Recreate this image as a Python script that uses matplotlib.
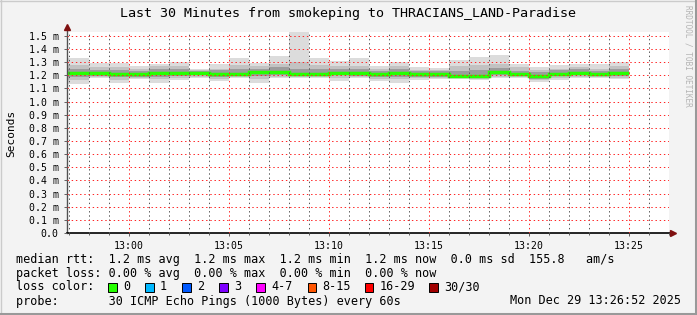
import numpy as np
import matplotlib.pyplot as plt
from matplotlib.patches import Rectangle
from matplotlib.ticker import MultipleLocator, FixedLocator, FixedFormatter

plt.rcParams['font.family'] = ['DejaVu Sans Mono']

# ---------------------------------------------------------------------------
# data (ms), one value per 1-minute step; x is minutes after 13:00
X_LEFT, X_RIGHT = -3.1, 27.0
step_ends = list(range(-2, 26))

median = [1.216, 1.216, 1.214, 1.211, 1.216, 1.216, 1.218, 1.213, 1.211, 1.226,
          1.226, 1.211, 1.213, 1.221, 1.217, 1.214, 1.218, 1.208, 1.208, 1.198,
          1.195, 1.226, 1.208, 1.193, 1.214, 1.217, 1.211, 1.217]
ping_max = [1.333, 1.294, 1.297, 1.272, 1.287, 1.303, 1.252, 1.290, 1.333, 1.292,
            1.350, 1.600, 1.333, 1.310, 1.333, 1.273, 1.303, 1.265, 1.256, 1.316,
            1.340, 1.356, 1.289, 1.263, 1.280, 1.288, 1.288, 1.305]
ping_min = [1.137, 1.178, 1.145, 1.170, 1.145, 1.165, 1.178, 1.160, 1.178, 1.145,
            1.178, 1.178, 1.178, 1.160, 1.178, 1.155, 1.145, 1.165, 1.170, 1.170,
            1.165, 1.178, 1.178, 1.150, 1.165, 1.178, 1.178, 1.170]
p90 = [1.28, 1.26, 1.26, 1.25, 1.27, 1.27, 1.24, 1.25, 1.28, 1.27,
       1.29, 1.30, 1.28, 1.27, 1.27, 1.25, 1.27, 1.24, 1.24, 1.27,
       1.28, 1.29, 1.26, 1.24, 1.25, 1.26, 1.25, 1.27]
p75 = [1.250, 1.240, 1.240, 1.235, 1.245, 1.245, 1.235, 1.240, 1.250, 1.250,
       1.260, 1.245, 1.250, 1.245, 1.245, 1.235, 1.245, 1.230, 1.230, 1.235,
       1.240, 1.255, 1.235, 1.225, 1.240, 1.245, 1.235, 1.245]
p25 = [1.190, 1.195, 1.185, 1.190, 1.190, 1.195, 1.200, 1.190, 1.195, 1.195,
       1.205, 1.195, 1.195, 1.200, 1.195, 1.190, 1.190, 1.190, 1.190, 1.185,
       1.180, 1.200, 1.195, 1.175, 1.195, 1.200, 1.195, 1.195]
p10 = [1.165, 1.185, 1.165, 1.180, 1.170, 1.180, 1.190, 1.175, 1.185, 1.170,
       1.190, 1.185, 1.185, 1.180, 1.185, 1.170, 1.170, 1.180, 1.180, 1.178,
       1.175, 1.190, 1.185, 1.165, 1.180, 1.190, 1.185, 1.180]

tick_minutes = [0, 5, 10, 15, 20, 25]
tick_labels = ['13:00', '13:05', '13:10', '13:15', '13:20', '13:25']
y_ticks = [0.0, 0.1, 0.2, 0.3, 0.4, 0.5, 0.6, 0.7, 0.8, 0.9, 1.0, 1.1, 1.2, 1.3, 1.4, 1.5]
y_labels = ['0.0'] + ['%.1f m' % v for v in y_ticks[1:]]

loss_names = ['0', '1', '2', '3', '4-7', '8-15', '16-29', '30/30']
loss_colors = ['#26ff00', '#00b8ff', '#0059ff', '#7e00ff', '#ff00ff',
               '#ff5500', '#ff0000', '#a10000']

title = 'Last 30 Minutes from smokeping to THRACIANS_LAND-Paradise'
rows = ['median rtt:  1.2 ms avg  1.2 ms max  1.2 ms min  1.2 ms now  0.0 ms sd  155.8   am/s',
        'packet loss: 0.00 % avg  0.00 % max  0.00 % min  0.00 % now',
        'loss color:',
        'probe:       30 ICMP Echo Pings (1000 Bytes) every 60s']
stamp = 'Mon Dec 29 13:26:52 2025'

##############################################################################
W, H = 697, 315
fig = plt.figure(figsize=(W / 100, H / 100), dpi=100, facecolor='#f3f3f3')


def fx(px):
    return px / W


def fy(py):
    return 1 - py / H


ax = fig.add_axes([fx(67), fy(233), fx(669) - fx(67), fy(32) - fy(233)])
ax.set_facecolor('white')

edges = [X_LEFT] + step_ends
ax.stairs(ping_max, edges, baseline=ping_min, fill=True, color='#dcdcdc', lw=0)
ax.stairs(p90, edges, baseline=p10, fill=True, color='#c2c2c2', lw=0)
ax.stairs(p75, edges, baseline=p25, fill=True, color='#9c9c9c', lw=0)
ax.stairs(median, edges, baseline=None, color='#26ff00', lw=2.5)

ax.set_xlim(X_LEFT, X_RIGHT)
ax.set_ylim(0, 1.53)

ax.xaxis.set_major_locator(FixedLocator(tick_minutes))
ax.xaxis.set_major_formatter(FixedFormatter(tick_labels))
ax.xaxis.set_minor_locator(MultipleLocator(1))
ax.yaxis.set_major_locator(FixedLocator(y_ticks))
ax.yaxis.set_major_formatter(FixedFormatter(y_labels))

ax.set_axisbelow(False)
ax.grid(which='major', color=(1, 0.15, 0.15, 0.2), linestyle=(0, (1.4, 2.8)), lw=0.72)
ax.grid(which='minor', axis='x', color=(0.35, 0.35, 0.35, 0.2), linestyle=(0, (1.4, 2.8)), lw=0.72)

ax.tick_params(axis='both', which='major', labelsize=7.1, color='#606060',
               length=2.5, width=0.7)
ax.tick_params(axis='y', pad=3.5)
ax.tick_params(axis='x', pad=3)
ax.tick_params(axis='x', which='minor', length=1.5, width=0.7, color='#606060')

for s in ax.spines.values():
    s.set_visible(False)

# axis lines with rrdtool-style arrows
ax.plot([0, 0], [0, 1 + 5 / 201], transform=ax.transAxes, color='#505050',
        lw=1.0, clip_on=False)
ax.plot([0, 1 + 4 / 602], [0, 0], transform=ax.transAxes, color='black',
        lw=1.2, clip_on=False)
ax.plot([0], [1 + 5 / 201], transform=ax.transAxes, marker='^', ms=4.5,
        color='#7f1010', clip_on=False)
ax.plot([1 + 4 / 602], [0], transform=ax.transAxes, marker='>', ms=4.5,
        color='#7f1010', clip_on=False)

# texts
fig.text(fx(348.5), fy(13), title, ha='center', va='center', fontsize=9.6)
fig.text(fx(11), fy(133), 'Seconds', rotation=90, ha='center', va='center',
         fontsize=8.0)
fig.text(fx(688), fy(5), 'RRDTOOL / TOBI OETIKER', rotation=270, ha='center',
         va='top', fontsize=5.6, color='#b4b4b4')

row_y = [259, 273, 287, 301]
for txt, y in zip(rows, row_y):
    fig.text(fx(16), fy(y), txt, ha='left', va='center', fontsize=8.5)
fig.text(fx(681), fy(row_y[3]), stamp, ha='right', va='center', fontsize=8.5)

box_x = [108, 145, 182, 219, 256, 307.5, 364.5, 429]
for bx, name, col in zip(box_x, loss_names, loss_colors):
    fig.patches.append(Rectangle((fx(bx), fy(row_y[2] + 4.5)), 8.5 / W, 9 / H,
                                 transform=fig.transFigure, facecolor=col,
                                 edgecolor='black', lw=0.7))
    fig.text(fx(bx + 15), fy(row_y[2]), name, ha='left', va='center', fontsize=8.5)

# frame shading
fig.add_artist(plt.Line2D([0, 1], [fy(0.5), fy(0.5)], transform=fig.transFigure,
                          color='#cbcbcb', lw=1.0))
fig.add_artist(plt.Line2D([fx(0.5), fx(0.5)], [0, 1], transform=fig.transFigure,
                          color='#cbcbcb', lw=1.0))
fig.add_artist(plt.Line2D([0, 1], [fy(313.5), fy(313.5)], transform=fig.transFigure,
                          color='#999999', lw=2.2))
fig.add_artist(plt.Line2D([fx(695.5), fx(695.5)], [0, 1], transform=fig.transFigure,
                          color='#999999', lw=2.2))

fig.savefig('out.png', dpi=100, facecolor=fig.get_facecolor())
